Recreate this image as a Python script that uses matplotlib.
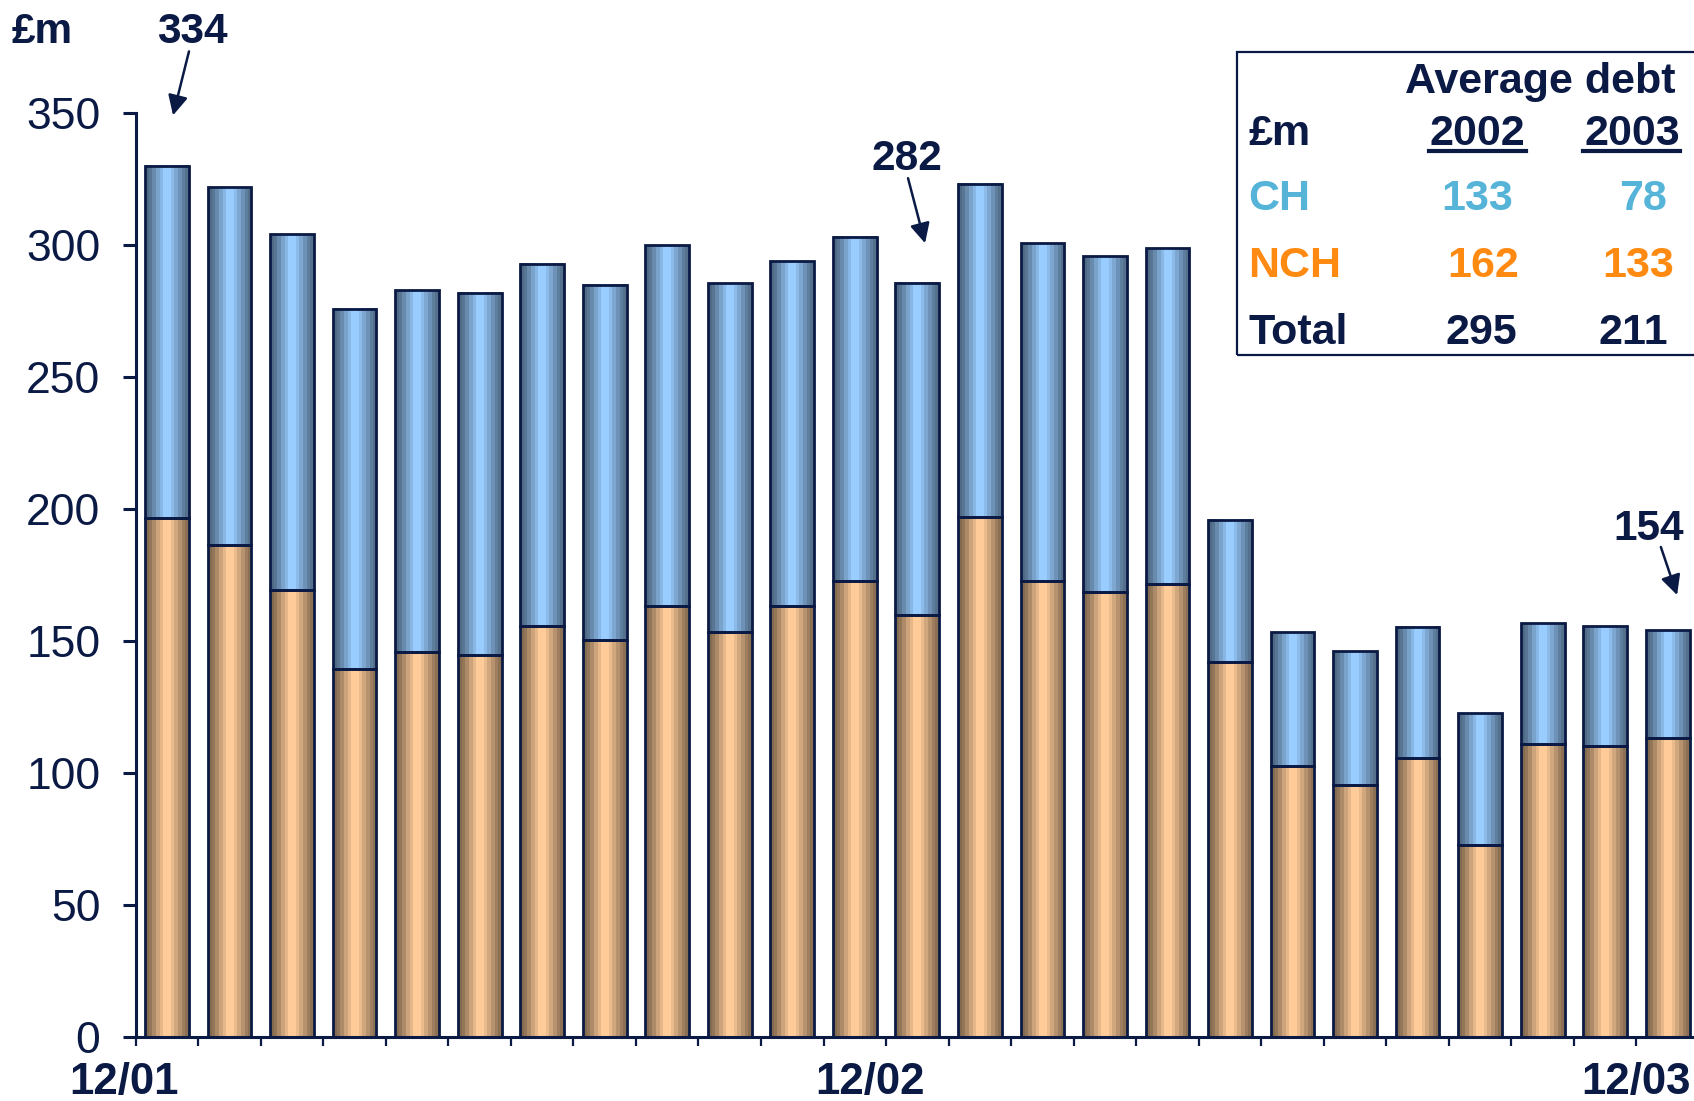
import numpy as np
import matplotlib
matplotlib.use("Agg")
import matplotlib.pyplot as plt
from matplotlib.patches import Rectangle
from matplotlib.lines import Line2D
from matplotlib.colors import to_rgb

# month-end debt, £m: non-cash-hungry (bottom) and cash-hungry (top) businesses
nch = [196.5, 186.5, 169.5, 139.3, 145.8, 144.6, 155.6, 150.3, 163.4, 153.6,
       163.4, 172.8, 159.7, 196.9, 172.8, 168.7, 171.6, 142.0, 102.7, 95.5,
       105.6, 72.7, 111.1, 110.3, 113.2]
ch = [133.5, 135.5, 134.5, 136.4, 136.9, 137.3, 137.3, 134.4, 136.4, 131.9,
      130.3, 130.3, 125.9, 126.2, 127.9, 127.1, 127.0, 53.8, 50.6, 50.7,
      49.7, 49.9, 45.8, 45.3, 40.8]
month_labels = ["12/01", "12/02", "12/03"]
month_pos = [-0.69, 11.24, 23.5]

# callouts: text, text baseline position, arrow tail, arrow head (data units)
callouts = [("334", (0.40, 376.3), (0.352, 373.2), (0.097, 349.0)),
            ("282", (11.835, 328.3), (11.851, 325.2), (12.123, 300.6)),
            ("154", (23.70, 188.2), (23.89, 185.6), (24.15, 167.4))]

# average debt summary
tbl_rows = ["CH", "NCH", "Total"]
tbl_2002 = ["133", "162", "295"]
tbl_2003 = ["78", "133", "211"]

NAVY = "#0b1a44"
FONT = ["Liberation Sans", "DejaVu Sans"]
W, H = 1694, 1101

fig = plt.figure(figsize=(W / 100, H / 100), dpi=100)
ax = fig.add_axes([135.7 / W, 1 - 1037.3 / H, 1 - 135.7 / W, 924.6 / H])

x = np.arange(len(nch))
bw = 0.70
low = ax.bar(x, nch, bw, color="none", edgecolor=NAVY, lw=2.0, zorder=3)
high = ax.bar(x, ch, bw, bottom=nch, color="none", edgecolor=NAVY, lw=2.0, zorder=3)

# banded cylinder shading across each bar
profile = np.array([0.52, 0.58, 0.68, 0.80, 0.90, 1.0, 1.0, 0.92, 0.82, 0.72, 0.62, 0.55])


def shade(patch, base):
    x0, y0 = patch.get_x(), patch.get_y()
    img = profile[None, :, None] * np.array(to_rgb(base))[None, None, :]
    ax.imshow(img, extent=[x0, x0 + patch.get_width(), y0, y0 + patch.get_height()],
              aspect="auto", interpolation="nearest", zorder=2)


for p in low:
    shade(p, "#ffcc99")
for p in high:
    shade(p, "#99ccff")

ax.set_xlim(-0.5, 24.42)
ax.set_ylim(0, 350)
ax.set_yticks(np.arange(0, 351, 50))
ax.set_xticks(np.arange(-0.5, 24, 1))
ax.set_xticklabels([])
for s in ["top", "right"]:
    ax.spines[s].set_visible(False)
for s in ["left", "bottom"]:
    ax.spines[s].set_color(NAVY)
    ax.spines[s].set_linewidth(2.2)
ax.tick_params(axis="y", direction="out", length=9.5, width=2.2, color=NAVY, pad=16,
               labelsize=32, labelcolor=NAVY)
ax.tick_params(axis="x", direction="out", length=6.5, width=1.6, color=NAVY)
for lab in ax.get_yticklabels():
    lab.set_family(FONT)

for lbl, pos in zip(month_labels, month_pos):
    ax.text(pos, -17, lbl, ha="center", va="center", fontsize=31.5, fontweight="bold",
            color=NAVY, family=["Liberation Sans Narrow"] + FONT, clip_on=False)

for txt, tpos, tail, head in callouts:
    ax.text(*tpos, txt, ha="center", va="baseline", fontsize=30.5, fontweight="bold",
            color=NAVY, family=FONT, clip_on=False)
    ax.annotate("", xy=head, xytext=tail, annotation_clip=False,
                arrowprops=dict(arrowstyle="-|>", color=NAVY, lw=1.8,
                                mutation_scale=30, shrinkA=0, shrinkB=0))

ax.text(-0.5 + (42 - 135.7) / 62.53, (1037.3 - 43) / 2.642, "£m", ha="center", va="baseline",
        fontsize=30.5, fontweight="bold", color=NAVY, family=FONT, clip_on=False)


# summary box, placed in pixel coordinates of the figure
def fx(px):
    return px / W


def fy(py):
    return 1 - py / H


fig.patches.append(Rectangle((fx(1236.7), fy(355)), fx(1700) - fx(1236.7), fy(51.7) - fy(355),
                             transform=fig.transFigure, fill=False, edgecolor=NAVY, lw=1.6))

tk = dict(fontsize=31, fontweight="bold", va="baseline", family=FONT)
fig.text(fx(1540), fy(93), "Average debt", ha="center", color=NAVY, **tk)
fig.text(fx(1248), fy(145), "£m", ha="left", color=NAVY, **tk)
fig.text(fx(1477), fy(145), "2002", ha="center", color=NAVY, **tk)
fig.text(fx(1632), fy(145), "2003", ha="center", color=NAVY, **tk)
for a, b in [(1429, 1526), (1583, 1680)]:
    fig.lines.append(Line2D([fx(a), fx(b)], [fy(151), fy(151)], transform=fig.transFigure,
                            color=NAVY, lw=3))

row_colors = ["#55b4d8", "#ff8a12", NAVY]
row_y = [210, 277.3, 344]
col2002 = [1477, 1483, 1481]
col2003 = [1643, 1638, 1633]
for i, name in enumerate(tbl_rows):
    fig.text(fx(1248), fy(row_y[i]), name, ha="left", color=row_colors[i], **tk)
    fig.text(fx(col2002[i]), fy(row_y[i]), tbl_2002[i], ha="center", color=row_colors[i], **tk)
    fig.text(fx(col2003[i]), fy(row_y[i]), tbl_2003[i], ha="center", color=row_colors[i], **tk)

fig.savefig("out.png", dpi=100)
